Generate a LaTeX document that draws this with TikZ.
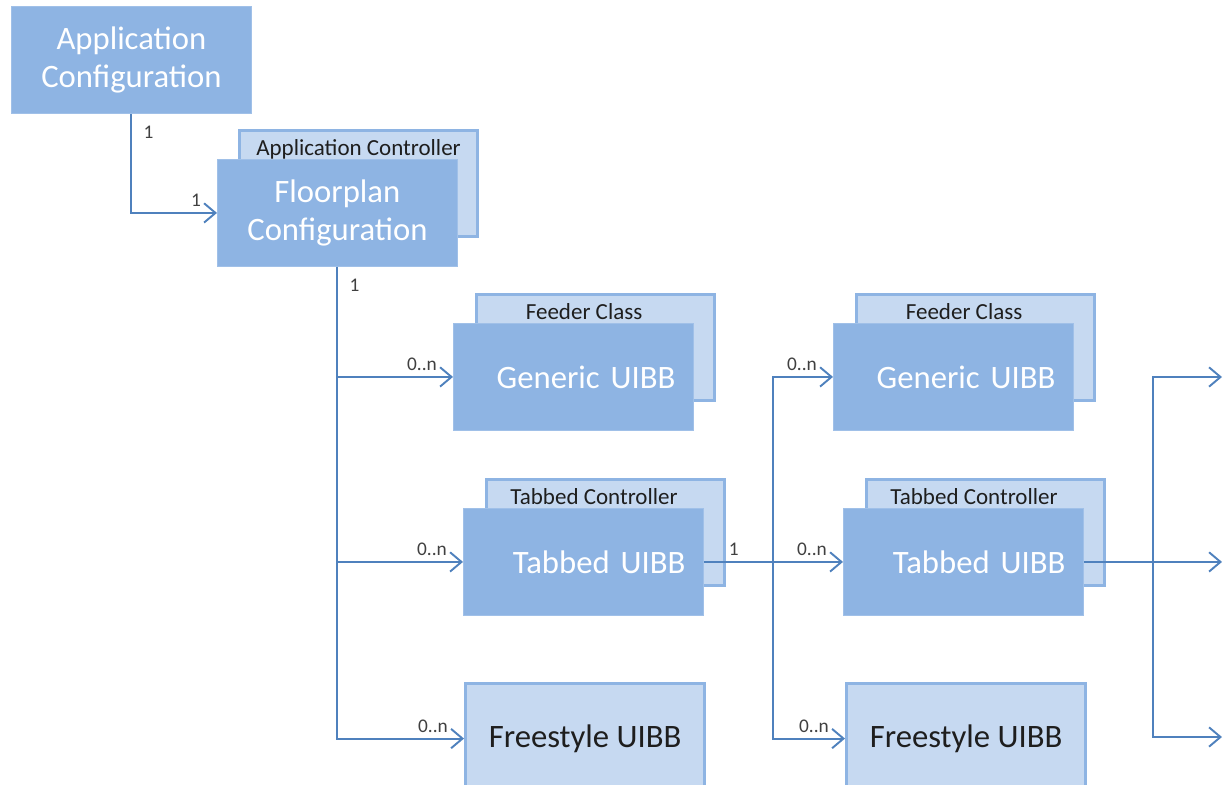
\documentclass[tikz,border=0pt]{standalone}
\usepackage{fontspec}
\setmainfont{Carlito}
\usetikzlibrary{
    arrows.meta,
    positioning,
    calc,
}
\definecolor{frontblue}{RGB}{142,180,227}
\definecolor{frontedge}{RGB}{160,192,232}
\definecolor{backblue}{RGB}{198,217,241}
\definecolor{edgeblue}{RGB}{142,180,227}
\definecolor{lineblue}{RGB}{79,129,189}
\definecolor{textdark}{RGB}{30,30,30}
\definecolor{multgray}{RGB}{64,64,64}

\begin{document}
\begin{tikzpicture}[
    x=0.02cm, y=-0.02cm,
    bigtext/.style={font=\fontsize{18.6}{22}\selectfont},
    front/.style={draw=frontedge, line width=0.5pt, fill=frontblue, text=white,
    bigtext, minimum width=4.8cm, minimum height=2.14cm, anchor=north west,
inner sep=0pt},
    uibb/.style={front, inner xsep=0.36cm, text width=4.08cm, align=right},
    ctrl/.style={draw=edgeblue, line width=1.8pt, fill=backblue, minimum
    width=4.76cm, minimum height=2.12cm, anchor=north west, inner sep=0pt},
    ctrltext/.style={anchor=north, yshift=-0.17cm, inner sep=1pt,
    font=\fontsize{13.1}{15}\selectfont, text=textdark},
    free/.style={draw=edgeblue, line width=1.8pt, fill=backblue, text=textdark,
    bigtext, minimum width=4.78cm, minimum height=2.2cm, anchor=north west},
    link/.style={draw=lineblue, line width=1.1pt, -{Straight Barb[length=6.5pt,
    width=11pt]}},
    mult/.style={font=\fontsize{11}{13}\selectfont, text=multgray, inner sep=1pt},
    multin/.style={mult, anchor=south east, xshift=-0.28cm, yshift=0.08cm},
]

\useasboundingbox (0,0) rectangle (1225,785);

% APPLICATION CONFIGURATION
\node[front, align=center] at (11,6) (app) {Application\\Configuration};

% FLOORPLAN
\node[ctrl, label={[ctrltext]north:Application Controller}] at (238,129)
    (fpctrl) {};
\node[front, align=center] at (217,159) (fp) {Floorplan\\Configuration};

% COLUMN 1
\node[ctrl, label={[ctrltext, xshift=-0.23cm]north:Feeder Class}] at (475,293)
    (feed_1) {};
\node[uibb] at (453,323) (gen_1) {Generic UIBB};
\node[ctrl, label={[ctrltext, xshift=-0.23cm]north:Tabbed Controller}] at
    (485,478) (tabctrl_1) {};
\node[uibb] at (463,508) (tab_1) {Tabbed UIBB};
\node[free] at (464,682) (free_1) {Freestyle UIBB};

% COLUMN 2
\node[ctrl, label={[ctrltext, xshift=-0.23cm]north:Feeder Class}] at (855,293)
    (feed_2) {};
\node[uibb] at (833,323) (gen_2) {Generic UIBB};
\node[ctrl, label={[ctrltext, xshift=-0.23cm]north:Tabbed Controller}] at
    (865,478) (tabctrl_2) {};
\node[uibb] at (843,508) (tab_2) {Tabbed UIBB};
\node[free] at (845,682) (free_2) {Freestyle UIBB};

% CONNECTORS
\draw[link] (app.south) |- (fp.west);
\draw[link] (fp.south) |- (gen_1.west);
\draw[link] (fp.south) |- (tab_1.west);
\draw[link] (fp.south) |- (free_1.west);

\coordinate (j_2) at ($(tab_1.east)!0.5!(tab_2.west)$);
\draw[link] (tab_1.east) -- (tab_2.west);
\draw[link] (j_2) |- (gen_2.west);
\draw[link] (j_2) |- (free_2.west);

% OUTGOING
\coordinate (out_top) at (1222,377);
\coordinate (out_bot) at (1222,737);
\coordinate (out_mid) at (tab_2.east -| out_top);
\coordinate (j_3) at ($(tab_2.east)!0.5!(out_mid)$);
\draw[link] (tab_2.east) -- (out_mid);
\draw[link] (j_3) |- (out_top);
\draw[link] (j_3) |- (out_bot);

% MULTIPLICITIES
\node[mult, anchor=north west, xshift=0.2cm, yshift=-0.2cm] at (app.south)
    (m_app) {1};
\node[multin] at (fp.west) (m_fp) {1};
\node[mult, anchor=north west, xshift=0.2cm, yshift=-0.2cm] at (fp.south)
    (m_fpout) {1};
\node[multin] at (gen_1.west) (m_gen_1) {0..n};
\node[multin] at (tab_1.west) (m_tab_1) {0..n};
\node[multin] at (free_1.west) (m_free_1) {0..n};
\node[mult, anchor=south west, xshift=0.46cm, yshift=0.08cm] at (tab_1.east)
    (m_tabout) {1};
\node[multin] at (gen_2.west) (m_gen_2) {0..n};
\node[multin] at (tab_2.west) (m_tab_2) {0..n};
\node[multin] at (free_2.west) (m_free_2) {0..n};

\end{tikzpicture}
\end{document}
